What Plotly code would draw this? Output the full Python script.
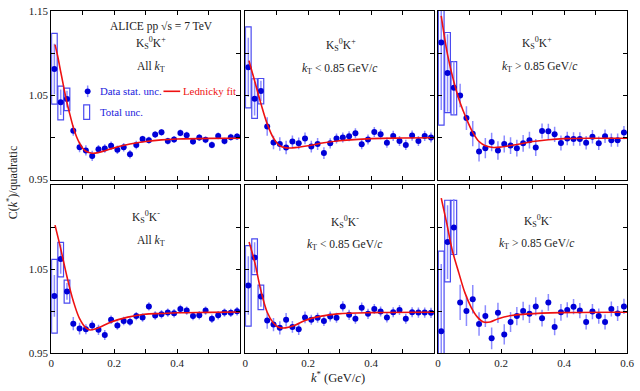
import plotly.graph_objects as go

# DATA #################################################################################################################

kstar = [0.01, 0.03, 0.05, 0.07, 0.09, 0.11, 0.13, 0.15, 0.17, 0.19,
         0.21, 0.23, 0.25, 0.27, 0.29, 0.31, 0.33, 0.35, 0.37, 0.39,
         0.41, 0.43, 0.45, 0.47, 0.49, 0.51, 0.53, 0.55, 0.57, 0.59]

# K0s K+ all kT
c_kp_all = [1.081, 1.0416, 1.0454, 1.0079, 0.9883, 0.9845, 0.978, 0.986, 0.9868, 0.990,
            0.9852, 0.9883, 0.9799, 0.991, 0.9979, 0.9967, 1.0033, 1.006, 0.9956, 0.9975,
            1.0052, 1.0025, 0.9952, 0.9998, 0.9971, 0.991, 1.0017, 0.9956, 1.0002, 1.001]
e_kp_all = [0.03, 0.015, 0.01, 0.006, 0.006, 0.006, 0.006, 0.005, 0.005, 0.005,
            0.005, 0.005, 0.005, 0.005, 0.004, 0.004, 0.004, 0.004, 0.004, 0.004,
            0.004, 0.004, 0.004, 0.004, 0.004, 0.004, 0.004, 0.004, 0.004, 0.004]
# K0s K+ kT < 0.85
c_kp_lo = [1.083, 1.0458, 1.055, 1.0128, 0.994, 0.9921, 0.9879, 0.9952, 0.9929, 0.9987,
           0.9891, 0.9921, 0.9814, 0.9929, 0.9987, 0.9998, 1.0013, 1.0048, 0.9918, 0.9975,
           1.0063, 1.0036, 0.9937, 1.0017, 0.9956, 0.991, 1.0021, 0.9956, 1.0017, 0.9998]
e_kp_lo = [0.035, 0.02, 0.012, 0.011, 0.008, 0.008, 0.008, 0.007, 0.007, 0.007,
           0.007, 0.007, 0.007, 0.006, 0.006, 0.006, 0.006, 0.006, 0.006, 0.006,
           0.006, 0.006, 0.006, 0.006, 0.006, 0.006, 0.006, 0.006, 0.006, 0.006]
# K0s K+ kT > 0.85
c_kp_hi = [1.1125, 1.0764, 1.0588, 1.0496, 1.0228, 1.0044, 0.9833, 0.9872, 0.9944, 0.9845,
           0.9921, 0.9902, 0.9872, 0.9929, 0.9967, 0.9879, 1.0075, 1.0071, 1.0036, 0.9933,
           0.9987, 0.9979, 0.9979, 0.9937, 1.0006, 0.9929, 1.0013, 0.9967, 0.9967, 1.0056]
e_kp_hi = [0.08, 0.046, 0.031, 0.014, 0.014, 0.015, 0.012, 0.012, 0.011, 0.011,
           0.01, 0.01, 0.01, 0.01, 0.01, 0.01, 0.009, 0.009, 0.009, 0.009,
           0.008, 0.008, 0.008, 0.008, 0.008, 0.008, 0.008, 0.008, 0.008, 0.008]
# K0s K- all kT
c_km_all = [1.0181, 1.062, 1.0235, 0.985, 0.9792, 0.9784, 0.9827, 0.9776, 0.9714, 0.9897,
            0.9827, 0.9881, 0.9874, 0.994, 0.9924, 1.0056, 0.9947, 0.9963, 0.9982, 0.9975,
            1.0025, 1.0006, 0.994, 0.9951, 1.0006, 0.9909, 0.9951, 0.9982, 0.9979, 0.9998]
e_km_all = [0.025, 0.0175, 0.01, 0.008, 0.007, 0.006, 0.006, 0.006, 0.006, 0.005,
            0.005, 0.005, 0.005, 0.005, 0.005, 0.005, 0.005, 0.005, 0.005, 0.005,
            0.005, 0.005, 0.005, 0.005, 0.005, 0.005, 0.005, 0.005, 0.005, 0.005]
# K0s K- kT < 0.85
c_km_lo = [1.0305, 1.064, 1.0173, 0.9889, 0.9839, 0.98, 0.9897, 0.9811, 0.9784, 0.9924,
           0.9897, 0.992, 0.9881, 0.9936, 0.992, 1.0056, 0.9955, 0.9909, 1.0041, 0.9967,
           1.0025, 0.9994, 0.9924, 0.9986, 1.0014, 0.9909, 0.9986, 0.9982, 0.9982, 0.9979]
e_km_lo = [0.035, 0.018, 0.012, 0.01, 0.008, 0.008, 0.008, 0.007, 0.007, 0.007,
           0.006, 0.006, 0.006, 0.006, 0.006, 0.006, 0.006, 0.006, 0.006, 0.006,
           0.006, 0.006, 0.006, 0.006, 0.006, 0.006, 0.006, 0.006, 0.006, 0.006]
# K0s K- kT > 0.85
c_km_hi = [0.9761, 1.0823, 1.0998, 1.0103, 1.0002, 1.0142, 0.9846, 0.994, 0.9675, 0.9979,
           0.9722, 0.987, 0.994, 1.0002, 0.9967, 1.0056, 0.9916, 1.0103, 0.9811, 0.9986,
           1.0014, 1.0053, 1.0006, 0.987, 0.9994, 0.994, 0.987, 1.0025, 0.9971, 1.0056]
e_km_hi = [0.08, 0.044, 0.034, 0.021, 0.018, 0.017, 0.014, 0.013, 0.013, 0.012,
           0.012, 0.012, 0.011, 0.011, 0.011, 0.011, 0.01, 0.01, 0.01, 0.01,
           0.009, 0.009, 0.009, 0.009, 0.009, 0.009, 0.009, 0.009, 0.009, 0.009]

# total uncertainty boxes (first three bins)
box_k = [0.01, 0.03, 0.05]
box_kp_all = [1.0814, 1.0408, 1.045]
tot_kp_all = [0.042, 0.02, 0.0134]
box_kp_lo = [1.083, 1.046, 1.0548]
tot_kp_lo = [0.048, 0.0235, 0.015]
box_kp_hi = [1.1125, 1.0768, 1.0583]
tot_kp_hi = [0.098, 0.0475, 0.0316]
box_km_all = [1.0177, 1.0613, 1.0232]
tot_km_all = [0.044, 0.0206, 0.0137]
box_km_lo = [1.03, 1.0648, 1.0164]
tot_km_lo = [0.048, 0.0214, 0.0146]
box_km_hi = [0.976, 1.0835, 1.0998]
tot_km_hi = [0.0954, 0.0487, 0.0323]

# Lednicky fit curves
fk_kp_all = [0.012, 0.02, 0.03, 0.04, 0.05, 0.06, 0.07, 0.08, 0.09, 0.10, 0.11, 0.13, 0.15, 0.2, 0.25, 0.3, 0.35, 0.4, 0.5, 0.6]
fc_kp_all = [1.110, 1.097, 1.078, 1.059, 1.041, 1.026, 1.012, 1.001, 0.993, 0.987, 0.9835, 0.9812, 0.982, 0.9875, 0.992, 0.995, 0.997, 0.998, 0.9988, 0.999]
fk_kp_lo = [0.012, 0.03, 0.05, 0.07, 0.09, 0.11, 0.13, 0.15, 0.2, 0.25, 0.3, 0.4, 0.5, 0.6]
fc_kp_lo = [1.091, 1.067, 1.040, 1.016, 0.999, 0.990, 0.9875, 0.9875, 0.990, 0.9935, 0.996, 0.9985, 0.9992, 0.9995]
fk_kp_hi = [0.01, 0.03, 0.05, 0.07, 0.09, 0.11, 0.13, 0.15, 0.175, 0.2, 0.25, 0.3, 0.35, 0.4, 0.5, 0.6]
fc_kp_hi = [1.144, 1.098, 1.066, 1.041, 1.022, 1.006, 0.995, 0.990, 0.988, 0.9885, 0.9915, 0.995, 0.9972, 0.9985, 0.999, 0.999]
fk_km_all = [0.012, 0.03, 0.05, 0.07, 0.09, 0.11, 0.123, 0.15, 0.19, 0.243, 0.295, 0.35, 0.4, 0.5, 0.6]
fc_km_all = [1.1025, 1.0745, 1.041, 1.012, 0.991, 0.980, 0.9775, 0.980, 0.987, 0.9928, 0.9963, 0.9972, 0.998, 0.9985, 0.999]
fk_km_lo = [0.0125, 0.03, 0.049, 0.07, 0.089, 0.108, 0.128, 0.158, 0.19, 0.242, 0.294, 0.398, 0.6]
fc_km_lo = [1.0823, 1.059, 1.0259, 0.9986, 0.9862, 0.9803, 0.980, 0.9831, 0.9889, 0.994, 0.9967, 0.9982, 0.9986]
fk_km_hi = [0.01, 0.028, 0.045, 0.066, 0.085, 0.105, 0.125, 0.144, 0.165, 0.191, 0.233, 0.285, 0.389, 0.6]
fc_km_hi = [1.1348, 1.1037, 1.0726, 1.0453, 1.022, 1.0045, 0.9928, 0.987, 0.987, 0.9909, 0.9947, 0.9967, 0.9982, 0.9986]

panels = [
    (c_kp_all, e_kp_all, box_kp_all, tot_kp_all, fk_kp_all, fc_kp_all),
    (c_kp_lo, e_kp_lo, box_kp_lo, tot_kp_lo, fk_kp_lo, fc_kp_lo),
    (c_kp_hi, e_kp_hi, box_kp_hi, tot_kp_hi, fk_kp_hi, fc_kp_hi),
    (c_km_all, e_km_all, box_km_all, tot_km_all, fk_km_all, fc_km_all),
    (c_km_lo, e_km_lo, box_km_lo, tot_km_lo, fk_km_lo, fc_km_lo),
    (c_km_hi, e_km_hi, box_km_hi, tot_km_hi, fk_km_hi, fc_km_hi),
]

# LAYOUT ###############################################################################################################

W, H = 640, 391
FONT = "Liberation Serif"
BLUE = "#0000d8"
ERRBLUE = "#8c8cff"
BOXBLUE = "#4a4af0"
RED = "#ee1111"

xcols = [(49, 241), (246, 438), (442, 634)]
yrows = [(5, 179), (185, 358)]


def px_x(x):
    return x / W


def px_y(y):
    return 1 - y / H


fig = go.Figure()

for i, (c, e, bc, bt, fk, fc) in enumerate(panels):
    n = "" if i == 0 else str(i + 1)
    xa, ya = "x" + n, "y" + n
    fig.add_trace(
        go.Bar(
            x=box_k, y=[2 * t for t in bt], base=[b - t for b, t in zip(bc, bt)],
            width=0.018, marker=dict(color="rgba(0,0,0,0)", line=dict(color=BOXBLUE, width=1.2)),
            xaxis=xa, yaxis=ya, showlegend=False,
        )
    )
    fig.add_trace(
        go.Scatter(
            x=kstar, y=c, mode="markers",
            marker=dict(color=BLUE, size=6),
            error_y=dict(type="data", array=e, color=ERRBLUE, thickness=1.5, width=0),
            xaxis=xa, yaxis=ya, showlegend=False, cliponaxis=True,
        )
    )
    fig.add_trace(
        go.Scatter(
            x=fk, y=fc, mode="lines", line=dict(color=RED, width=1.6, shape="spline"),
            xaxis=xa, yaxis=ya, showlegend=False,
        )
    )

    col, row = i % 3, i // 3
    x0, x1 = xcols[col]
    y0, y1 = yrows[row]
    axis_common = dict(
        showline=True, linecolor="black", linewidth=1, mirror="ticks",
        ticks="inside", ticklen=4, tickcolor="black", showgrid=False, zeroline=False,
        tickfont=dict(family=FONT, size=11, color="#222"), ticklabeloverflow="allow",
    )
    fig.layout["xaxis" + n] = dict(
        domain=[px_x(x0), px_x(x1)], range=[0, 0.6], anchor=ya,
        tickvals=[0, 0.2, 0.4, 0.6] if col == 2 else [0, 0.2, 0.4],
        ticktext=["0", "0.2", "0.4", "0.6"] if col == 2 else ["0", "0.2", "0.4"],
        showticklabels=(row == 1),
        minor=dict(tick0=0, dtick=0.1, ticks="inside", ticklen=4, tickcolor="black"),
        **axis_common
    )
    fig.layout["yaxis" + n] = dict(
        domain=[px_y(y1), px_y(y0)], range=[0.95, 1.15], anchor=xa,
        tickvals=[0.95, 1.05, 1.15] if row == 0 else [0.95, 1.05],
        ticktext=["0.95", "1.05", "1.15"] if row == 0 else ["0.95", "1.05"],
        showticklabels=(col == 0),
        minor=dict(tick0=0.95, dtick=0.05, ticks="inside", ticklen=4, tickcolor="black"),
        **axis_common
    )

# TEXT #################################################################################################################

labels = [
    (161, 21, "ALICE pp √s = 7 TeV"),
    (150, 38, "K<sub>S</sub><sup>0</sup>K<sup>+</sup>"),
    (150, 63, "All <i>k</i><sub>T</sub>"),
    (343, 40, "K<sub>S</sub><sup>0</sup>K<sup>+</sup>"),
    (342, 65, "<i>k</i><sub>T</sub> &lt; 0.85 GeV/<i>c</i>"),
    (542, 38, "K<sub>S</sub><sup>0</sup>K<sup>+</sup>"),
    (545, 63, "<i>k</i><sub>T</sub> &gt; 0.85 GeV/<i>c</i>"),
    (145, 218, "K<sub>S</sub><sup>0</sup>K<sup>-</sup>"),
    (150, 242, "All <i>k</i><sub>T</sub>"),
    (347, 223, "K<sub>S</sub><sup>0</sup>K<sup>-</sup>"),
    (347, 247, "<i>k</i><sub>T</sub> &lt; 0.85 GeV/<i>c</i>"),
    (543, 222, "K<sub>S</sub><sup>0</sup>K<sup>-</sup>"),
    (542, 246, "<i>k</i><sub>T</sub> &gt; 0.85 GeV/<i>c</i>"),
]
for x, y, t in labels:
    fig.add_annotation(
        x=px_x(x), y=px_y(y), xref="paper", yref="paper", text=t, showarrow=False,
        xanchor="center", yanchor="middle", font=dict(family=FONT, size=11.5, color="#222"),
    )

# legend
fig.add_shape(type="line", xref="paper", yref="paper", x0=px_x(86), x1=px_x(86), y0=px_y(82), y1=px_y(94),
              line=dict(color=ERRBLUE, width=1.5))
fig.add_shape(type="circle", xref="paper", yref="paper", x0=px_x(83), x1=px_x(89), y0=px_y(85), y1=px_y(91),
              fillcolor=BLUE, line=dict(color=BLUE, width=0))
fig.add_shape(type="rect", xref="paper", yref="paper", x0=px_x(82), x1=px_x(88), y0=px_y(102), y1=px_y(117),
              line=dict(color=BOXBLUE, width=1.2))
fig.add_shape(type="line", xref="paper", yref="paper", x0=px_x(163), x1=px_x(180), y0=px_y(88), y1=px_y(88),
              line=dict(color=RED, width=1.6))
legend_font = dict(family=FONT, size=10.8, color="#2222dd")
fig.add_annotation(x=px_x(96), y=px_y(88), xref="paper", yref="paper", text="Data stat. unc.", showarrow=False,
                   xanchor="left", yanchor="middle", font=legend_font)
fig.add_annotation(x=px_x(96), y=px_y(109), xref="paper", yref="paper", text="Total unc.", showarrow=False,
                   xanchor="left", yanchor="middle", font=legend_font)
fig.add_annotation(x=px_x(181), y=px_y(88), xref="paper", yref="paper", text="Lednicky fit", showarrow=False,
                   xanchor="left", yanchor="middle", font=dict(family=FONT, size=10.8, color=RED))

# axis titles
fig.add_annotation(x=px_x(10), y=px_y(182), xref="paper", yref="paper", text="C(<i>k</i><sup>*</sup>)/quadratic",
                   showarrow=False, textangle=-90, xanchor="center", yanchor="middle",
                   font=dict(family=FONT, size=12, color="#222"))
fig.add_annotation(x=px_x(340), y=px_y(383), xref="paper", yref="paper", text="<i>k</i><sup>*</sup> (GeV/<i>c</i>)",
                   showarrow=False, xanchor="center", yanchor="middle",
                   font=dict(family=FONT, size=12.5, color="#222"))

fig.update_layout(
    width=W, height=H, margin=dict(l=0, r=0, t=0, b=0),
    plot_bgcolor="white", paper_bgcolor="white", barmode="overlay", showlegend=False,
)

# drop the page's default body margin so the figure sits at the window's origin
fig.write_html(
    "out.html",
    config={"displayModeBar": False},
    post_script="document.body.style.margin = '0';",
)
